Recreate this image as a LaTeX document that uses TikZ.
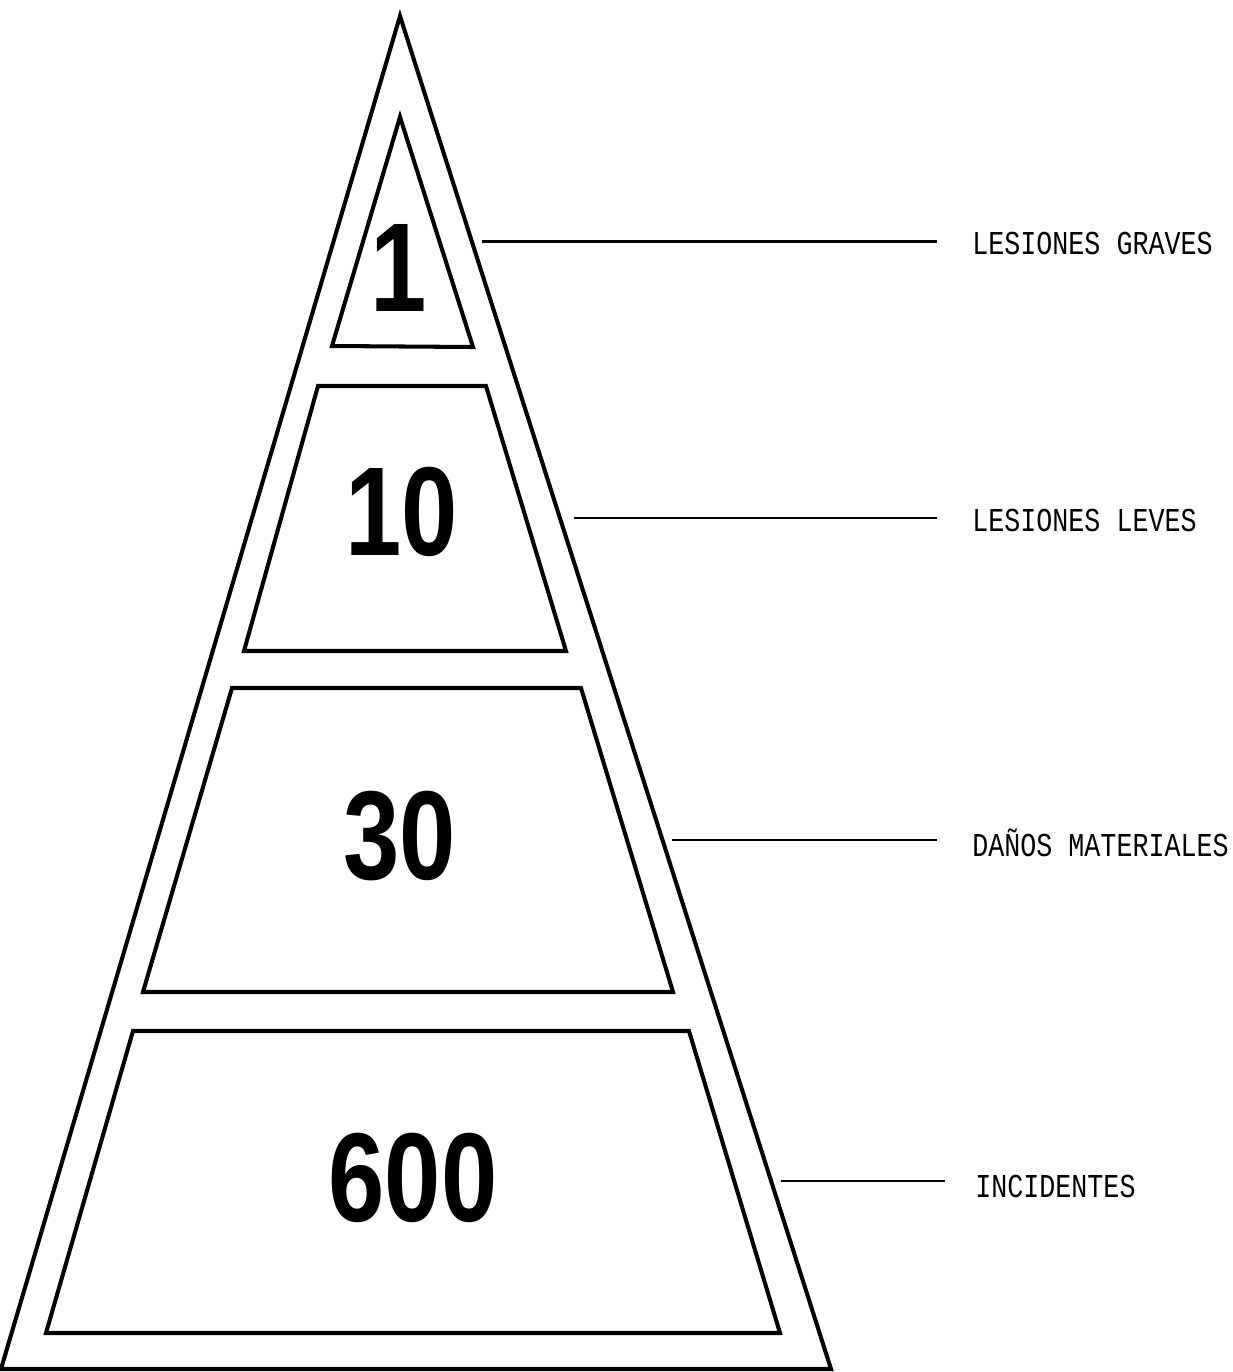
\documentclass[tikz,border=0pt]{standalone}
\usepackage{fontspec}
\usepackage{tikz}
\usetikzlibrary{positioning,calc}
\newfontfamily\numfont{Liberation Sans}
\newfontfamily\tagfont{Liberation Mono}

\begin{document}
\begin{tikzpicture}[x=0.02cm, y=-0.02cm,
  outline/.style={line width=2.3pt, line join=miter},
  leader/.style={line width=1.5pt},
  count/.style={font=\numfont\bfseries\fontsize{72}{72}\selectfont, xscale=0.8, inner sep=0pt},
  tag/.style={font=\tagfont\fontsize{19}{19}\selectfont, anchor=west, inner sep=0pt, xscale=0.8}]
\useasboundingbox[fill=white] (0,0) rectangle (1232,1372);
% outer triangle
\coordinate (top) at (400,16);
\coordinate (bl) at (1,1369);
\coordinate (br) at (831,1369);
\draw[outline] (top) -- (bl) -- (br) -- cycle;
% levels
\draw[outline] (400,117) -- (332,346) -- (473,347) -- cycle;
\draw[outline] (318,386) -- (486,386) -- (566,651) -- (244,651) -- cycle;
\draw[outline] (232,688) -- (581,688) -- (673,992) -- (143,992) -- cycle;
\draw[outline] (133,1031) -- (689,1031) -- (780,1333) -- (46,1333) -- cycle;
\node[count] (n1) at (399,268) {1};
\node[count] (n10) at (402,512) {10};
\node[count] (n30) at (400,836) {30};
\node[count] (n600) at (413,1178) {600};
% labels
\node[tag] (graves) at (972,243) {LESIONES GRAVES};
\node[tag] (leves) at (972,520) {LESIONES LEVES};
\node[tag] (danos) at (972,843) {DAÑOS MATERIALES};
\node[tag] (incid) at (975,1186) {INCIDENTES};
\coordinate (e1) at ($(top)!0.1667!(br)+(10,0)$);
\coordinate (e2) at ($(top)!0.371!(br)+(14,0)$);
\coordinate (e3) at ($(top)!0.609!(br)+(10,0)$);
\coordinate (e4) at ($(top)!0.861!(br)+(10,0)$);
\draw[leader] (e1) -- (e1 -| {937,0});
\draw[leader] (e2) -- (e2 -| {937,0});
\draw[leader] (e3) -- (e3 -| {937,0});
\draw[leader] (e4) -- (e4 -| {945,0});
\end{tikzpicture}
\end{document}
